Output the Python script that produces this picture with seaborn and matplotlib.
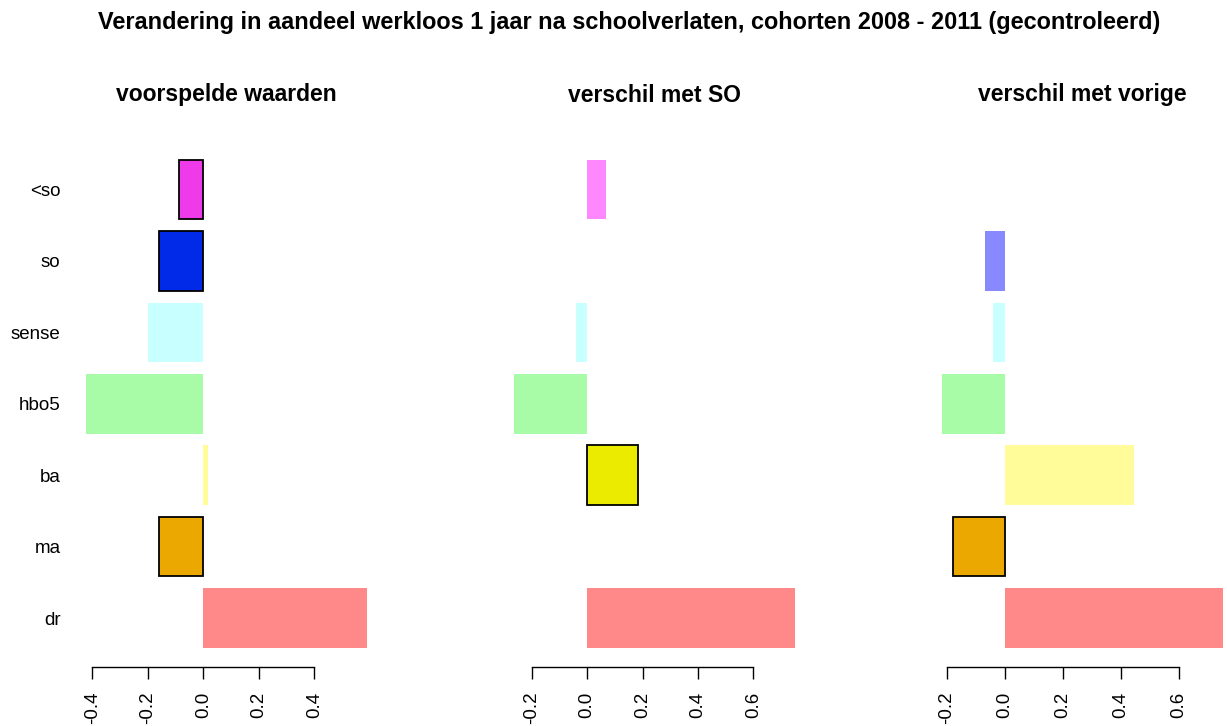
import numpy as np
import pandas as pd
import matplotlib
matplotlib.use("Agg")
import matplotlib.pyplot as plt
import seaborn as sns

# Data
categories = ["<so", "so", "sense", "hbo5", "ba", "ma", "dr"]
panel_titles = ["voorspelde waarden", "verschil met SO", "verschil met vorige"]

voorspeld = [-0.088, -0.161, -0.200, -0.422, 0.017, -0.160, 0.589]
verschil_so = [0.069, 0.0, -0.041, -0.264, 0.183, np.nan, 0.749]
verschil_vorige = [np.nan, -0.068, -0.041, -0.217, 0.446, -0.180, 0.750]

# significant (outlined, full colour) or not (pale)
sig_voorspeld = [True, True, False, False, False, True, False]
sig_so = [False, False, False, False, True, False, False]
sig_vorige = [False, False, False, False, False, True, False]

ticks_voorspeld = [-0.4, -0.2, 0.0, 0.2, 0.4]
ticks_verschil = [-0.2, 0.0, 0.2, 0.4, 0.6]

full_colors = {"<so": "#EE3AE8", "so": "#0029E8", "sense": "#00F0F0", "hbo5": "#33DD33",
               "ba": "#EBEB00", "ma": "#EBA800", "dr": "#F02020"}
pale_colors = {"<so": "#FF88FF", "so": "#8888FF", "sense": "#C8FFFF", "hbo5": "#A8FCA8",
               "ba": "#FFFC99", "ma": "#F5D480", "dr": "#FF8888"}

sns.set_theme(style="white")
plt.rcParams["font.family"] = ["Liberation Sans", "DejaVu Sans"]
plt.rcParams["text.color"] = "black"

W, H = 1227, 726
fig = plt.figure(figsize=(W / 100, H / 100), dpi=100)

panels = [
    (voorspeld, sig_voorspeld, ticks_voorspeld, 75.1),
    (verschil_so, sig_so, ticks_verschil, 502.8),
    (verschil_vorige, sig_vorige, ticks_verschil, 930.8),
]

for i, (vals, sig, ticks, left) in enumerate(panels):
    ax = fig.add_axes([left / W, 58.7 / H, 303 / W, 527 / H])
    df = pd.DataFrame({"cat": categories, "value": vals})
    sns.barplot(data=df, y="cat", x="value", hue="cat", order=categories,
                hue_order=categories, orient="h", width=1 / 1.2, legend=False,
                palette={c: (full_colors[c] if s else pale_colors[c])
                         for c, s in zip(categories, sig)},
                saturation=1, ax=ax)
    for p in ax.patches:
        k = int(round(p.get_y() + p.get_height() / 2))
        if sig[k]:
            p.set_edgecolor("black")
            p.set_linewidth(1.3)
        else:
            p.set_edgecolor("none")
            p.set_linewidth(0)

    v = np.array([x for x in vals if not np.isnan(x)])
    lo, hi = min(v.min(), 0), max(v.max(), 0)
    ext = 0.04 * (hi - lo)
    ax.set_xlim(lo - ext, hi + ext)
    ax.set_ylim(6.69, -0.69)
    ax.set_xticks(ticks)
    ax.set_xticklabels([f"{t:.1f}" for t in ticks], rotation=90, fontsize=13.5)
    ax.set_xlabel("")
    ax.set_ylabel("")
    for s in ["top", "right", "left"]:
        ax.spines[s].set_visible(False)
    ax.spines["bottom"].set_bounds(ticks[0], ticks[-1])
    ax.spines["bottom"].set_color("black")
    ax.spines["bottom"].set_linewidth(1.0)
    ax.tick_params(axis="x", bottom=True, length=8.5, width=1.0, color="black",
                   pad=9, labelcolor="black")
    if i == 0:
        ax.tick_params(axis="y", left=False, length=0, pad=10.5, labelsize=13.5,
                       labelcolor="black")
    else:
        ax.set_yticklabels([])
        ax.tick_params(axis="y", left=False, length=0)
    ax.patch.set_alpha(0)
    fig.text((left + 151.5) / W, 1 - 95 / H, panel_titles[i], ha="center",
             va="center", fontsize=16.5, fontweight="bold", color="black")

fig.text(629 / W, 1 - 22 / H,
         "Verandering in aandeel werkloos 1 jaar na schoolverlaten, cohorten 2008 - 2011 (gecontroleerd)",
         ha="center", va="center", fontsize=16.9, fontweight="bold", color="black")

fig.savefig("out.png", dpi=100)
